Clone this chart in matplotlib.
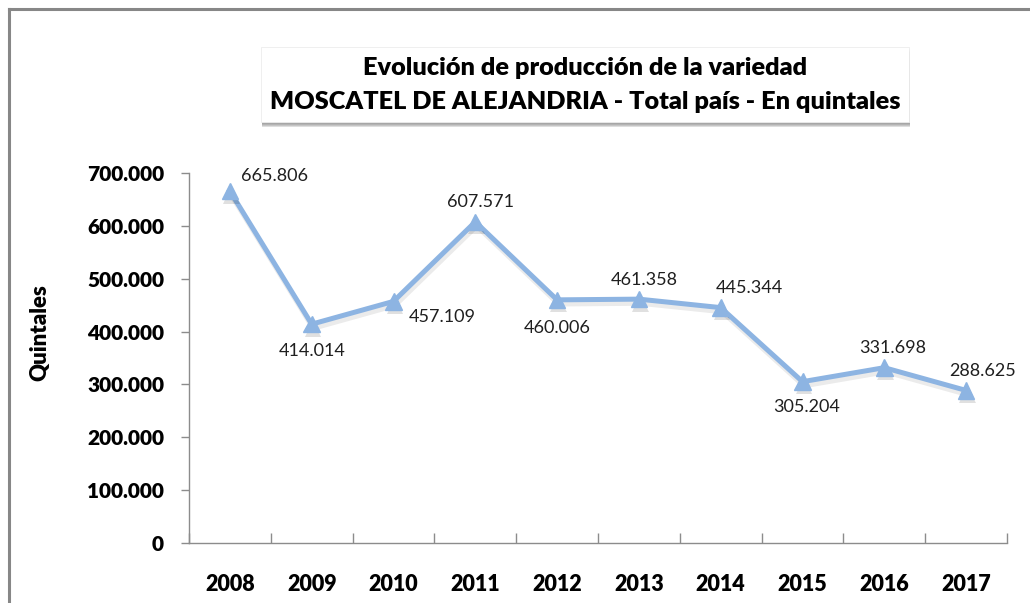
import matplotlib
matplotlib.use("Agg")
import matplotlib.pyplot as plt
import matplotlib.patheffects as pe
from matplotlib.patches import Rectangle
from matplotlib.lines import Line2D
from matplotlib.ticker import FixedLocator

years = ["2008", "2009", "2010", "2011", "2012", "2013", "2014", "2015", "2016", "2017"]
values = [665806, 414014, 457109, 607571, 460006, 461358, 445344, 305204, 331698, 288625]
value_labels = ["665.806", "414.014", "457.109", "607.571", "460.006",
                "461.358", "445.344", "305.204", "331.698", "288.625"]
yticks = [0, 100000, 200000, 300000, 400000, 500000, 600000, 700000]
ytick_labels = ["0", "100.000", "200.000", "300.000", "400.000", "500.000", "600.000", "700.000"]
title_lines = ["Evolución de producción de la variedad",
               "MOSCATEL DE ALEJANDRIA - Total país - En quintales"]
ylabel = "Quintales"

# label offsets in points (dx, dy)
label_offsets = [(32, 11), (0, -19), (35, -11), (4, 14), (0, -20),
                 (4, 14), (21, 14), (3, -18), (6, 14), (12, 14)]

FONT = ["Lato", "DejaVu Sans"]
plt.rcParams["font.family"] = FONT

W, H = 1030, 603
fig = plt.figure(figsize=(W / 100, H / 100), dpi=100)
fig.patch.set_facecolor("white")

# outer frame (top and left edges visible)
fig.add_artist(Line2D([9 / W, 9 / W], [0, 1 - 9 / H], transform=fig.transFigure,
                      color="#878787", lw=2.2))
fig.add_artist(Line2D([9 / W, 1], [1 - 9 / H, 1 - 9 / H], transform=fig.transFigure,
                      color="#878787", lw=2.2))

# title box with shadow
bx0, by0, bx1, by1 = 261, 47, 909, 122
for i, a in enumerate([0.07, 0.09, 0.11, 0.13]):
    d = 2 + i
    fig.add_artist(Rectangle(((bx0 + 1) / W, 1 - (by1 + d) / H),
                             (bx1 - bx0) / W, (by1 - by0) / H,
                             transform=fig.transFigure, facecolor="black",
                             edgecolor="none", alpha=a, zorder=1))
fig.add_artist(Rectangle((bx0 / W, 1 - by1 / H), (bx1 - bx0) / W, (by1 - by0) / H,
                         transform=fig.transFigure, facecolor="white",
                         edgecolor="#ececec", lw=0.6, zorder=2))
fig.text(585 / W, 1 - 68 / H, title_lines[0], ha="center", va="center",
         fontsize=18.2, fontweight="heavy", color="black", zorder=3)
fig.text(585 / W, 1 - 102 / H, title_lines[1], ha="center", va="center",
         fontsize=18.2, fontweight="heavy", color="black", zorder=3)

ax = fig.add_axes([189 / W, 1 - 543 / H, (1007 - 189) / W, (543 - 173) / H])
x = list(range(len(years)))
ax.set_xlim(-0.5, len(years) - 0.5)
ax.set_ylim(0, 700000)

line_color = "#8DB4E2"
ax.plot(x, values, color=line_color, lw=3.6, solid_joinstyle="miter", zorder=3,
        path_effects=[pe.SimpleLineShadow(offset=(1, -3), shadow_color="black", alpha=0.08),
                      pe.Normal()])
ax.plot(x, values, linestyle="none", marker="^", markersize=12, color=line_color,
        markeredgecolor=line_color, zorder=4,
        path_effects=[pe.SimplePatchShadow(offset=(1, -3), shadow_rgbFace="black", alpha=0.12),
                      pe.Normal()])

for xi, v, lab, (dx, dy) in zip(x, values, value_labels, label_offsets):
    ax.annotate(lab, (xi, v), xytext=(dx, dy), textcoords="offset points",
                ha="center", va="center", fontsize=13, color="#1f1f1f", zorder=5)

for s in ["top", "right"]:
    ax.spines[s].set_visible(False)
for s in ["left", "bottom"]:
    ax.spines[s].set_color("#8c8c8c")
    ax.spines[s].set_linewidth(1.0)

ax.yaxis.set_major_locator(FixedLocator(yticks))
ax.set_yticklabels(ytick_labels)
ax.tick_params(axis="y", direction="out", length=6, width=1, color="#8c8c8c",
               labelsize=15, pad=12)
for t in ax.get_yticklabels():
    t.set_fontweight("heavy")

ax.set_xticks(x)
ax.set_xticklabels(years)
ax.tick_params(axis="x", which="major", length=0, labelsize=15.5, pad=22)
for t in ax.get_xticklabels():
    t.set_fontweight("heavy")
ax.set_xticks([i - 0.5 for i in range(len(years) + 1)], minor=True)
ax.tick_params(axis="x", which="minor", direction="in", length=7, width=1, color="#8c8c8c")

fig.text(40 / W, 1 - 333 / H, ylabel, rotation=90, ha="center", va="center",
         fontsize=16, fontweight="heavy", color="black")

fig.savefig("out.png", dpi=100, facecolor="white")
